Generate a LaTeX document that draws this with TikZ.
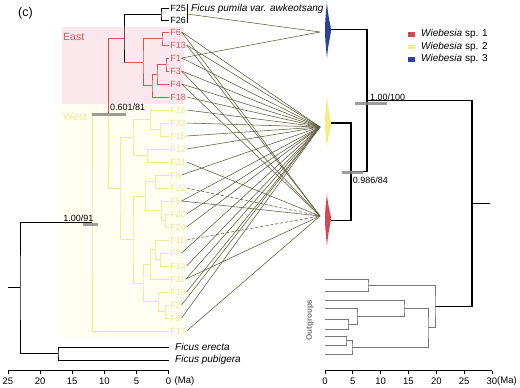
\documentclass[tikz,border=0pt]{standalone}
\usepackage{fontspec}
\setmainfont{Liberation Sans}
\definecolor{redT}{RGB}{214,84,96}
\definecolor{yelT}{RGB}{238,233,150}
\definecolor{yelL}{RGB}{236,230,160}
\definecolor{eastbg}{RGB}{252,231,237}
\definecolor{westbg}{RGB}{255,254,240}
\definecolor{connc}{RGB}{92,90,58}
\definecolor{barg}{RGB}{140,140,140}
\definecolor{spB}{RGB}{45,65,150}
\definecolor{spY}{RGB}{242,238,125}
\definecolor{spR}{RGB}{212,72,84}
\definecolor{ogray}{RGB}{120,120,120}
\tikzset{
  blk/.style={draw=black,line width=1pt},
  blkR/.style={draw=black,line width=1.3pt},
  redb/.style={draw=redT,line width=1pt},
  yelb/.style={draw=yelT,line width=1pt},
  ogb/.style={draw=ogray,line width=0.9pt},
  gbar/.style={draw=barg,line width=3pt,opacity=0.85},
  conn/.style={draw=connc,line width=0.55pt},
  dconn/.style={conn,dash pattern=on 3pt off 2pt},
  tip/.style={font=\fontsize{9}{10}\selectfont,inner sep=0.6pt,anchor=west},
  sup/.style={font=\fontsize{9}{10}\selectfont,inner sep=0pt},
  axl/.style={font=\fontsize{9.5}{10}\selectfont,inner sep=0pt},
}
\begin{document}
\begin{tikzpicture}[x=1pt,y=-1pt]
\useasboundingbox (0,0) rectangle (520,388);
% backgrounds
\fill[eastbg] (62,27) rectangle (184,104);
\fill[westbg] (62,104) rectangle (184,338);
\node[anchor=west,inner sep=0pt,text=redT,font=\fontsize{10.5}{11}\selectfont] (east) at (63,37) {East};
\node[anchor=west,inner sep=0pt,text=yelT,font=\fontsize{10.5}{11}\selectfont] (west) at (63,117) {West};
\node[anchor=west,inner sep=0pt,font=\fontsize{12.5}{13}\selectfont] (lblc) at (18,13) {(c)};

% ---------- left tree ----------
% black parts
\draw[blk] (8,287.8) -- (20,287.8);
\draw[blk] (92,222.2) -| (20,287.8) |- (58,353.5);
\draw[blk] (168.5,347) -| (58,353.5) |- (168.5,360);
\draw[blk] (168.5,8) -| (161,14) |- (168.5,20);
\draw[blk] (161,14) -| (124,38.03) -- (124,62.06);
% red parts
\draw[redb] (124,38.03) -| (108,113.3);
\draw[redb] (124,62.06) -- (143,62.06);
\draw[redb] (162,38.5) -| (143,62.06) |- (152,85.625);
\draw[redb] (168.5,32) -| (162,38.5) |- (168.5,45);
\draw[redb] (157,74.25) -| (152,85.625) |- (168.5,97);
\draw[redb] (166,64.5) -| (157,74.25) |- (168.5,84);
\draw[redb] (168.5,58) -| (166,64.5) |- (168.5,71);
% yellow parts
\draw[yelb] (108,113.3) |- (120,188.6);
\draw[yelb] (108,113.3) -| (92,222.2) |- (168.5,331);
\draw[yelb] (133,137.625) -| (120,188.6) |- (133,239.6);
\draw[yelb] (150,119.75) -| (133,137.625) |- (147,155.5);
\draw[yelb] (168.5,110) -| (150,119.75) |- (160,129.5);
\draw[yelb] (168.5,123) -| (160,129.5) |- (168.5,136);
\draw[yelb] (168.5,149) -| (147,155.5) |- (168.5,162);
\draw[yelb] (145,196.125) -| (133,239.6) |- (143,283.06);
\draw[yelb] (155,181.5) -| (145,196.125) |- (161,210.75);
\draw[yelb] (168.5,175) -| (155,181.5) |- (168.5,188);
\draw[yelb] (168.5,201) -| (161,210.75) |- (165,220.5);
\draw[yelb] (168.5,214) -| (165,220.5) |- (168.5,227);
\draw[yelb] (150,264.375) -| (143,283.06) |- (158,301.75);
\draw[yelb] (155,249.75) -| (150,264.375) |- (168.5,279);
\draw[yelb] (168.5,240) -| (155,249.75) |- (160,259.5);
\draw[yelb] (168.5,253) -| (160,259.5) |- (168.5,266);
\draw[yelb] (168.5,292) -| (158,301.75) |- (165,311.5);
\draw[yelb] (168.5,305) -| (165,311.5) |- (168.5,318);
% support bars
\draw[gbar] (92,114) -- (126,114);
\draw[gbar] (83,224) -- (98,224);
\node[sup,anchor=base west] (s1) at (110,110.5) {0.601/81};
\node[sup,anchor=base east] (s2) at (93.5,221.5) {1.00/91};

% tip labels
\node[tip] (F25) at (169.5,8) {F25};
\node[tip] (F26) at (169.5,20) {F26};
\foreach \n/\y in {F6/32,F13/45,F1/58,F3/71,F4/84,F18/97}
  \node[tip,text=redT] (\n) at (169.5,\y) {\n};
\foreach \n/\y in {F16/110,F23/123,F15/136,F12/149,F21/162,F8/175,F22/188,F5/201,F20/214,F24/227,F10/240,F7/253,F14/266,F11/279,F19/292,F2/305,F9/318,F17/331}
  \node[tip,text=yelL] (\n) at (169.5,\y) {\n};
\node[anchor=west,inner sep=0pt,font=\itshape\fontsize{10}{11}\selectfont] (erecta) at (175,347) {Ficus erecta};
\node[anchor=west,inner sep=0pt,font=\itshape\fontsize{10}{11}\selectfont] (pubig) at (175,360) {Ficus pubigera};
\draw[line width=0.6pt] (187,4) -- (187,23);
\coordinate (brk) at (187,14);
\node[anchor=west,inner sep=0pt,font=\itshape\fontsize{10}{11}\selectfont] (awk) at (191,9) {Ficus pumila var. awkeotsang};

% left axis
\draw[line width=0.9pt] (8,370.7) -- (168.5,370.7);
\foreach \i/\l in {0/0,1/5,2/10,3/15,4/20,5/25}{
  \draw[line width=0.9pt] (168.5-32.1*\i,370.7) -- ++(0,3);
  \node[axl] at (168.5-32.1*\i,381) {\l};
}
\node[axl] (ma1) at (184.5,381) {(Ma)};

% ---------- convergence points and spindles ----------
\coordinate (cb) at (320,32);
\coordinate (cy) at (320,127);
\coordinate (cr) at (320,216);
\fill[spB] (327,2) .. controls (328,18) and (331,26) .. (331,30) .. controls (331,34) and (328,44) .. (327,58) .. controls (325.5,44) and (325,36) .. (325,30) .. controls (325,24) and (325.5,16) .. (327,2) -- cycle;
\fill[spY] (327,96) .. controls (328,112) and (331,119) .. (331,123) .. controls (331,127) and (328,135) .. (327,147) .. controls (325.5,135) and (325,128) .. (325,123) .. controls (325,118) and (325.5,110) .. (327,96) -- cycle;
\fill[spR] (327,194) .. controls (328,208) and (331,214) .. (331,218) .. controls (331,222) and (328,232) .. (327,246) .. controls (325.5,232) and (325,224) .. (325,218) .. controls (325,212) and (325.5,206) .. (327,194) -- cycle;

% ---------- connectors ----------
\draw[conn] (brk) -- (cb);
\draw[conn] (F1.east) -- (cb);
\foreach \n in {F6,F13,F1,F3,F4,F18,F16,F23,F15,F12,F8,F5,F20,F24,F7,F14,F11,F19,F2,F9}
  \draw[conn] (\n.east) -- (cy);
\foreach \n in {F6,F13,F3,F4,F21,F5,F11,F17}
  \draw[conn] (\n.east) -- (cr);
\draw[dconn] (F22.east) -- (cr);
\draw[dconn] (F10.east) -- (cr);

% ---------- right tree ----------
\draw[blkR] (331,29.5) -| (367,100.6) |- (351,171.75);
\draw[blkR] (331,123) -| (351,171.75) |- (331,220.5);
\draw[blkR] (367,100.6) -| (472,203.5) |- (435,306.5);
\draw[blkR] (472,203.5) -- (490,203.5);
% outgroups
\draw[ogb] (325,279) -| (368,285.3) |- (325,291.7);
\draw[ogb] (325,319.3) -| (348,324.3) |- (325,329.3);
\draw[ogb] (325,308.3) -| (357,316.3) |- (348,324.3);
\draw[ogb] (325,300) -| (404,308.2) |- (357,316.3);
\draw[ogb] (325,336.7) -| (346,340.85) |- (325,345);
\draw[ogb] (346,340.85) -| (352,347.4) |- (325,354);
\draw[ogb] (404,308.2) -| (428,327.8) |- (352,347.4);
\draw[ogb] (368,285.3) -| (435,306.5) |- (428,327.8);
\node[rotate=90,text=ogray,inner sep=0pt,font=\bfseries\fontsize{8}{9}\selectfont] (outg) at (310,320) {Outgroups};
% bars
\draw[gbar] (355,103) -- (387,103);
\draw[gbar] (342,172.7) -- (363,172.7);
\node[sup,anchor=base west] (s3) at (370,100.5) {1.00/100};
\node[sup,anchor=base west] (s4) at (352.7,183.5) {0.986/84};

% right axis
\draw[line width=0.9pt] (325,370.7) -- (492,370.7);
\foreach \i/\l in {0/0,1/5,2/10,3/15,4/20,5/25,6/30}{
  \draw[line width=0.9pt] (325+27.83*\i,370.7) -- ++(0,3);
  \node[axl] at (325+27.83*\i,381) {\l};
}
\node[axl,anchor=west] (ma2) at (497,381) {(Ma)};

% legend
\fill[spR] (408,32) rectangle (415,36.5);
\fill[spY] (408,44.5) rectangle (415,49);
\fill[spB] (408,57) rectangle (415,61.5);
\node[anchor=west,inner sep=0pt,font=\fontsize{10}{11}\selectfont] (l1) at (421,34.2) {\textit{Wiebesia} sp. 1};
\node[anchor=west,inner sep=0pt,font=\fontsize{10}{11}\selectfont] (l2) at (421,46.7) {\textit{Wiebesia} sp. 2};
\node[anchor=west,inner sep=0pt,font=\fontsize{10}{11}\selectfont] (l3) at (421,59.2) {\textit{Wiebesia} sp. 3};
\end{tikzpicture}
\end{document}
